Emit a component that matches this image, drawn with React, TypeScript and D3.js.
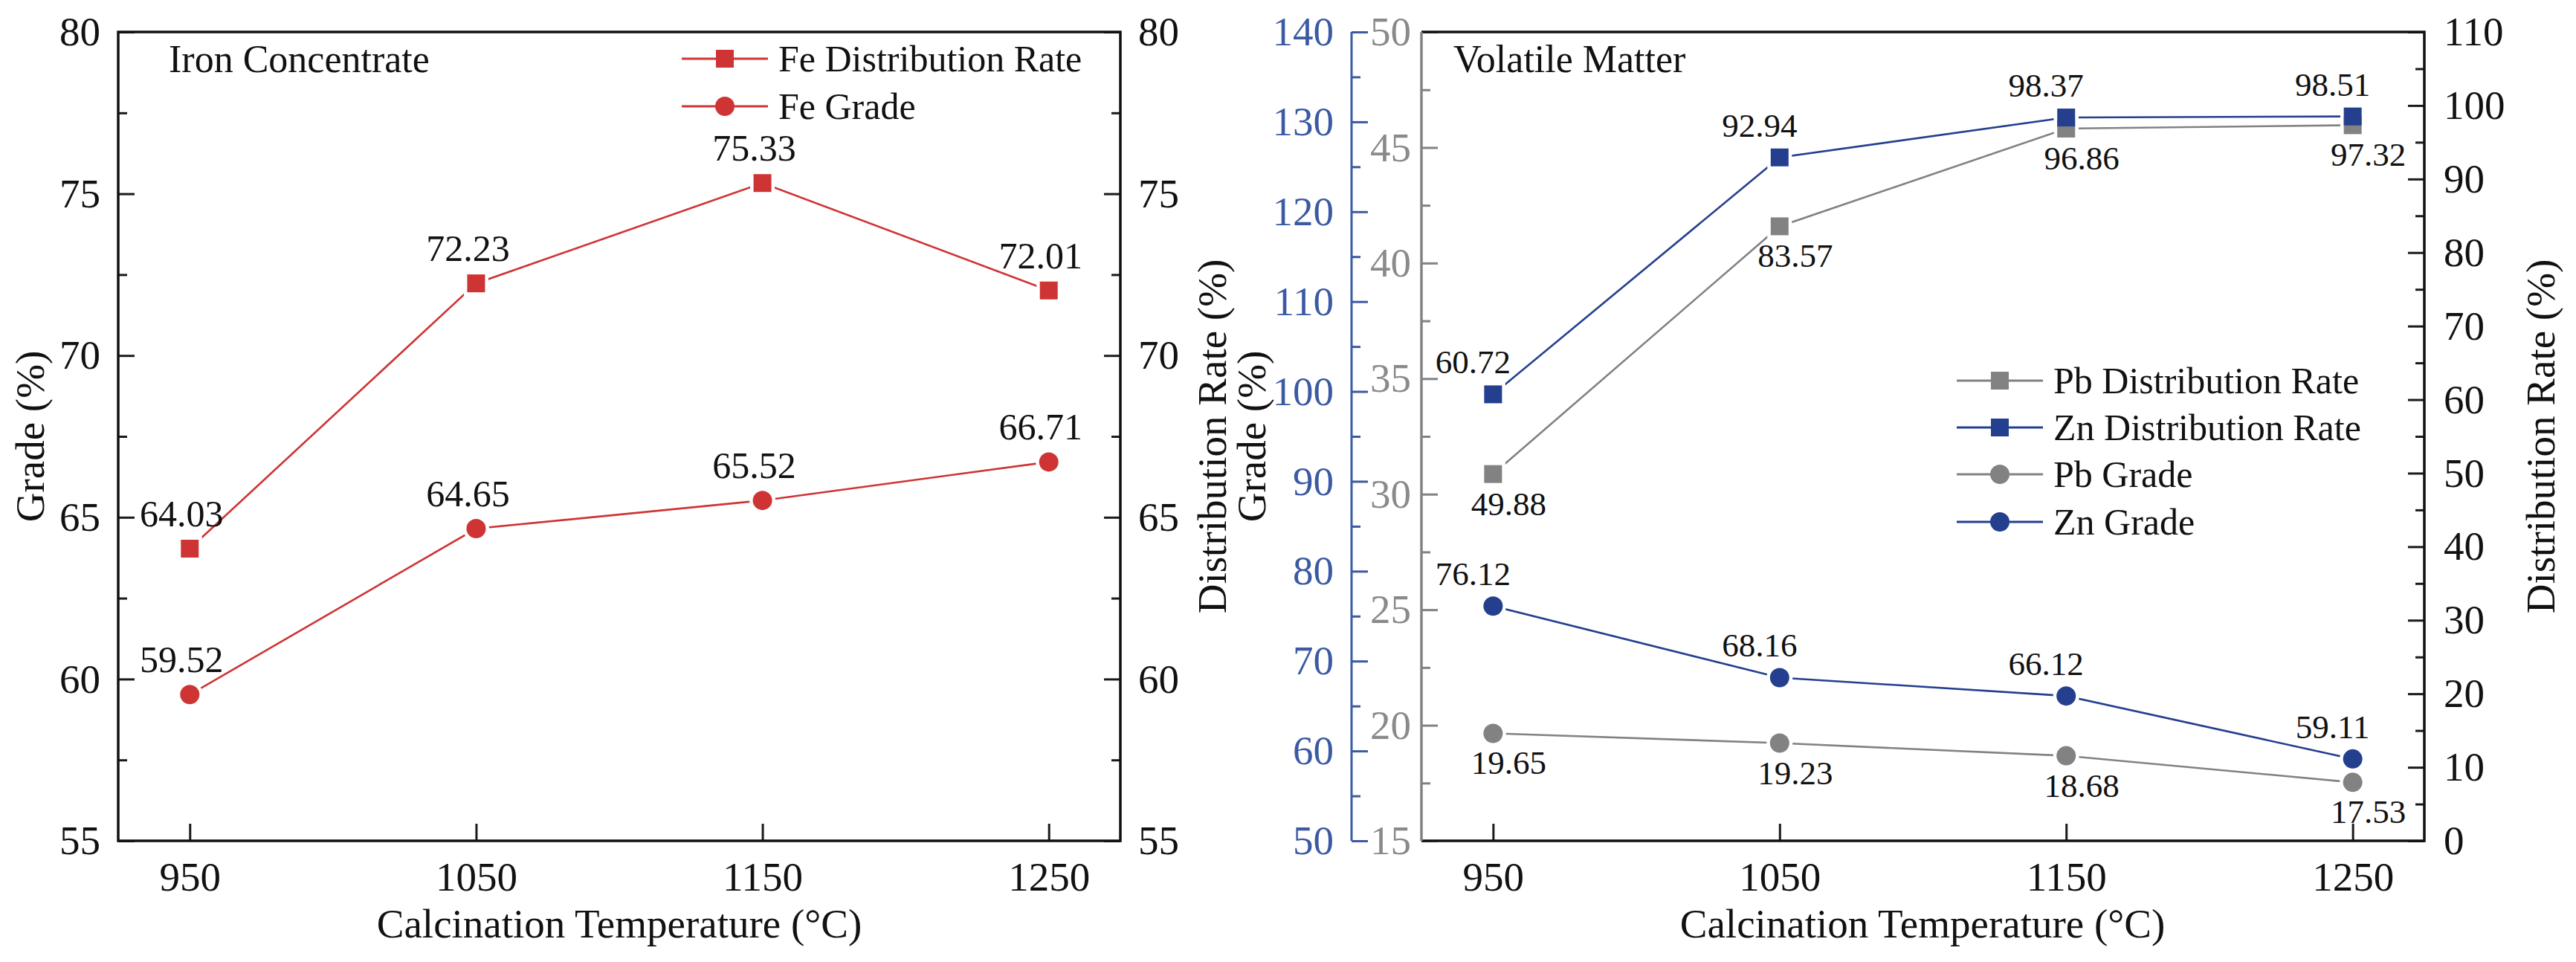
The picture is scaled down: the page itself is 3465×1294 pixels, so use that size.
import { useEffect, useRef } from "react";
import * as d3 from "d3";

// calcination temperature (°C)
const temps = [950, 1050, 1150, 1250];

// iron concentrate
const feDistribution = [64.03, 72.23, 75.33, 72.01];
const feGrade = [59.52, 64.65, 65.52, 66.71];

// volatile matter
const pbDistribution = [49.88, 83.57, 96.86, 97.32];
const znDistribution = [60.72, 92.94, 98.37, 98.51];
const pbGrade = [19.65, 19.23, 18.68, 17.53];
const znGrade = [76.12, 68.16, 66.12, 59.11];

// axis ticks
const feTicks = [55, 60, 65, 70, 75, 80];
const distTicks = [0, 10, 20, 30, 40, 50, 60, 70, 80, 90, 100, 110];
const znGradeTicks = [50, 60, 70, 80, 90, 100, 110, 120, 130, 140];
const pbGradeTicks = [15, 20, 25, 30, 35, 40, 45, 50];

const FONT = '"Liberation Serif", "DejaVu Serif", "Times New Roman", Times, serif';
const RED = "#cf3434";
const BLUE = "#243f8e";
const BLUE_AXIS = "#3b5aa3";
const GREY = "#828282";

const W = 3465;
const H = 1294;
const TOP = 43;
const BOTTOM = 1131;

type Sel = d3.Selection<SVGGElement, unknown, null, undefined>;

const minorOf = (ticks: number[]) =>
  ticks.slice(0, -1).map((t, i) => (t + ticks[i + 1]) / 2);

export default function App() {
  const svgRef = useRef<SVGSVGElement>(null);

  useEffect(() => {
    if (!svgRef.current) return;
    const svg = d3.select(svgRef.current);
    svg.selectAll("*").remove();

    const styleAxis = (g: Sel, color: string, size = 55) => {
      g.select(".domain").remove();
      g.attr("font-family", null).attr("font-size", size).style("font-family", FONT);
      g.selectAll(".tick line").attr("stroke", color).attr("stroke-width", 3);
      g.selectAll(".tick text").attr("fill", color);
    };

    const yAxis = (
      x: number,
      side: "left" | "right",
      scale: d3.ScaleLinear<number, number>,
      ticks: number[],
      pad: number,
      color: string,
      labelColor = color,
    ) => {
      const make = side === "left" ? d3.axisLeft : d3.axisRight;
      const major = svg.append("g").attr("transform", `translate(${x},0)`);
      major.call(
        make(scale).tickValues(ticks).tickSizeInner(-22).tickSizeOuter(0).tickPadding(pad),
      );
      styleAxis(major, color);
      major.selectAll(".tick text").attr("fill", labelColor);
      const minor = svg.append("g").attr("transform", `translate(${x},0)`);
      minor.call(
        make(scale).tickValues(minorOf(ticks)).tickSizeInner(-12).tickSizeOuter(0).tickFormat(() => ""),
      );
      styleAxis(minor, color);
    };

    const xAxis = (scale: d3.ScaleLinear<number, number>) => {
      const g = svg.append("g").attr("transform", `translate(0,${BOTTOM})`);
      g.call(d3.axisBottom(scale).tickValues(temps).tickSizeInner(-23).tickSizeOuter(0).tickPadding(28).tickFormat(d3.format("d")));
      styleAxis(g, "#1a1a1a");
      g.selectAll(".tick text").attr("fill", "#111");
    };

    const text = (
      x: number,
      y: number,
      s: string,
      opts: { size?: number; anchor?: string; rotate?: boolean; color?: string } = {},
    ) => {
      const t = svg
        .append("text")
        .style("font-family", FONT)
        .attr("font-size", opts.size ?? 55)
        .attr("fill", opts.color ?? "#111")
        .attr("text-anchor", opts.anchor ?? "start")
        .text(s);
      if (opts.rotate) {
        t.attr("transform", `translate(${x},${y}) rotate(-90)`)
          .attr("text-anchor", "middle")
          .attr("dominant-baseline", "central");
      } else {
        t.attr("x", x).attr("y", y);
      }
      return t;
    };

    const marker = (
      layer: Sel,
      shape: "square" | "circle",
      cx: number,
      cy: number,
      color: string,
      grow = 0,
    ) => {
      if (shape === "square") {
        const s = 24 + grow;
        layer.append("rect").attr("x", cx - s / 2).attr("y", cy - s / 2).attr("width", s).attr("height", s).attr("fill", color);
      } else {
        layer.append("circle").attr("cx", cx).attr("cy", cy).attr("r", 13 + grow / 2).attr("fill", color);
      }
    };

    type Series = {
      values: number[];
      y: d3.ScaleLinear<number, number>;
      color: string;
      shape: "square" | "circle";
      dx: number;
      dy: number;
      size: number;
    };

    const plot = (x: d3.ScaleLinear<number, number>, series: Series[]) => {
      const lines = svg.append("g");
      const halos = svg.append("g");
      const marks = svg.append("g");
      const labels = svg.append("g").style("font-family", FONT);
      series.forEach((s) => {
        const line = d3
          .line<number>()
          .x((_, i) => x(temps[i]))
          .y((v) => s.y(v));
        lines
          .append("path")
          .datum(s.values)
          .attr("fill", "none")
          .attr("stroke", s.color)
          .attr("stroke-width", 2.6)
          .attr("d", line);
        s.values.forEach((v, i) => {
          marker(halos, s.shape, x(temps[i]), s.y(v), "#fff", 9);
          marker(marks, s.shape, x(temps[i]), s.y(v), s.color);
          labels
            .append("text")
            .attr("x", x(temps[i]) + s.dx)
            .attr("y", s.y(v) + s.dy)
            .attr("text-anchor", "middle")
            .attr("font-size", s.size)
            .attr("fill", "#111")
            .text(v.toFixed(2));
        });
      });
    };

    const legend = (
      x: number,
      rows: { label: string; color: string; shape: "square" | "circle"; y: number }[],
    ) => {
      const g = svg.append("g").style("font-family", FONT);
      rows.forEach((r) => {
        g.append("line")
          .attr("x1", x)
          .attr("x2", x + 116)
          .attr("y1", r.y)
          .attr("y2", r.y)
          .attr("stroke", r.color)
          .attr("stroke-width", 3);
        marker(g, r.shape, x + 58, r.y, r.color);
        g.append("text")
          .attr("x", x + 130)
          .attr("y", r.y)
          .attr("dy", "0.33em")
          .attr("font-size", 50)
          .attr("fill", "#111")
          .text(r.label);
      });
    };

    // ---------- left: iron concentrate ----------
    const xL = d3.scaleLinear().domain([925, 1275]).range([159, 1507]);
    const yFe = d3.scaleLinear().domain([55, 80]).range([BOTTOM, TOP]);

    xAxis(xL);
    yAxis(159, "left", yFe, feTicks, 24, "#1a1a1a", "#111");
    yAxis(1507, "right", yFe, feTicks, 24, "#1a1a1a", "#111");

    plot(xL, [
      { values: feDistribution, y: yFe, color: RED, shape: "square", dx: -11, dy: -30, size: 50 },
      { values: feGrade, y: yFe, color: RED, shape: "circle", dx: -11, dy: -30, size: 50 },
    ]);

    svg
      .append("rect")
      .attr("x", 159)
      .attr("y", TOP)
      .attr("width", 1507 - 159)
      .attr("height", BOTTOM - TOP)
      .attr("fill", "none")
      .attr("stroke", "#111")
      .attr("stroke-width", 3.5);

    legend(917, [
      { label: "Fe Distribution Rate", color: RED, shape: "square", y: 79 },
      { label: "Fe Grade", color: RED, shape: "circle", y: 143 },
    ]);

    text(227, 97, "Iron Concentrate", { size: 52 });
    text(40, (TOP + BOTTOM) / 2, "Grade (%)", { rotate: true });
    text(833, 1261, "Calcination Temperature (°C)", { anchor: "middle" });
    text(1630, (TOP + BOTTOM) / 2, "Distribution Rate (%)", { rotate: true });
    text(1683, (TOP + BOTTOM) / 2, "Grade (%)", { rotate: true });

    // ---------- right: volatile matter ----------
    const xR = d3.scaleLinear().domain([925, 1275]).range([1912, 3261]);
    const yDist = d3.scaleLinear().domain([0, 110]).range([BOTTOM, TOP]);
    const yZn = d3.scaleLinear().domain([50, 140]).range([BOTTOM, TOP]);
    const yPb = d3.scaleLinear().domain([15, 50]).range([BOTTOM, TOP]);

    xAxis(xR);
    yAxis(3261, "right", yDist, distTicks, 26, "#1a1a1a", "#111");
    yAxis(1912, "left", yPb, pbGradeTicks, 14, GREY, "#8a8a8a");
    yAxis(1818, "left", yZn, znGradeTicks, 24, BLUE_AXIS, BLUE_AXIS);
    svg
      .append("line")
      .attr("x1", 1818)
      .attr("x2", 1818)
      .attr("y1", TOP)
      .attr("y2", BOTTOM)
      .attr("stroke", BLUE_AXIS)
      .attr("stroke-width", 3);

    plot(xR, [
      { values: pbDistribution, y: yDist, color: GREY, shape: "square", dx: 21, dy: 55, size: 45 },
      { values: znDistribution, y: yDist, color: BLUE, shape: "square", dx: -27, dy: -28, size: 45 },
      { values: pbGrade, y: yPb, color: GREY, shape: "circle", dx: 21, dy: 55, size: 45 },
      { values: znGrade, y: yZn, color: BLUE, shape: "circle", dx: -27, dy: -28, size: 45 },
    ]);

    const frame = svg.append("g").attr("fill", "none").attr("stroke-width", 3.5);
    frame
      .append("path")
      .attr("stroke", "#111")
      .attr("d", `M1912,${TOP}H3261V${BOTTOM}H1912`);
    frame
      .append("line")
      .attr("stroke", GREY)
      .attr("x1", 1912)
      .attr("x2", 1912)
      .attr("y1", TOP)
      .attr("y2", BOTTOM);

    legend(2632, [
      { label: "Pb Distribution Rate", color: GREY, shape: "square", y: 512 },
      { label: "Zn Distribution Rate", color: BLUE, shape: "square", y: 575 },
      { label: "Pb Grade", color: GREY, shape: "circle", y: 638 },
      { label: "Zn Grade", color: BLUE, shape: "circle", y: 702 },
    ]);

    text(1955, 97, "Volatile Matter", { size: 52 });
    text(2586, 1261, "Calcination Temperature (°C)", { anchor: "middle" });
    text(3417, (TOP + BOTTOM) / 2, "Distribution Rate (%)", { rotate: true });
  }, []);

  return (
    <div style={{ position: "absolute", left: 0, top: 0, background: "#fff" }}>
      <svg ref={svgRef} width={W} height={H} style={{ display: "block", fontFamily: FONT }} />
    </div>
  );
}
